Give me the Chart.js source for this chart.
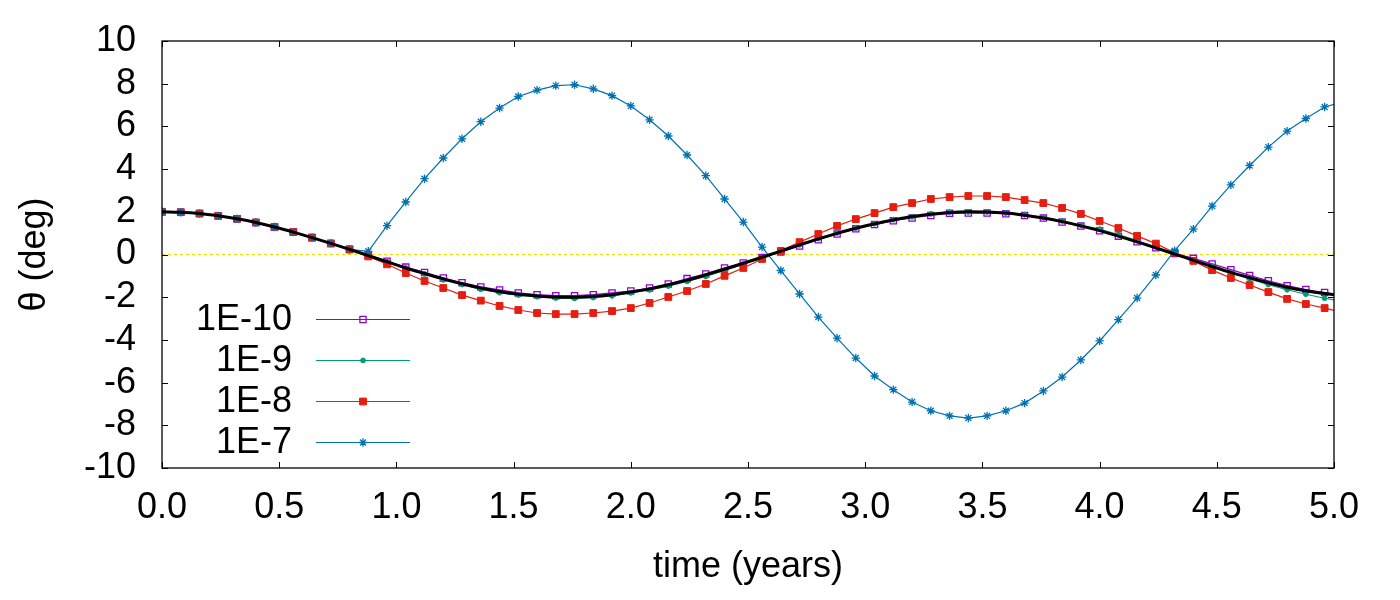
<!DOCTYPE html>
<html>
<head>
<meta charset="utf-8">
<script src="https://cdn.jsdelivr.net/npm/chart.js@4.4.1/dist/chart.umd.min.js"></script>
<style>
  html, body { margin: 0; padding: 0; background: #fff; }
</style>
</head>
<body>
<canvas id="chart" width="1400" height="600"></canvas>
<script>
'use strict';

// sample times (years)
const times = [
  0.00, 0.08, 0.16, 0.24, 0.32, 0.40, 0.48, 0.56, 0.64, 0.72,
  0.80, 0.88, 0.96, 1.04, 1.12, 1.20, 1.28, 1.36, 1.44, 1.52,
  1.60, 1.68, 1.76, 1.84, 1.92, 2.00, 2.08, 2.16, 2.24, 2.32,
  2.40, 2.48, 2.56, 2.64, 2.72, 2.80, 2.88, 2.96, 3.04, 3.12,
  3.20, 3.28, 3.36, 3.44, 3.52, 3.60, 3.68, 3.76, 3.84, 3.92,
  4.00, 4.08, 4.16, 4.24, 4.32, 4.40, 4.48, 4.56, 4.64, 4.72,
  4.80, 4.88, 4.96, 5.04
];

// thick black reference curve
const exact = [
  2.00, 1.98, 1.92, 1.81, 1.67, 1.50, 1.29, 1.05, 0.79, 0.52,
  0.24, -0.05, -0.34, -0.63, -0.89, -1.14, -1.37, -1.57, -1.73, -1.86,
  -1.94, -1.99, -2.00, -1.96, -1.88, -1.76, -1.61, -1.42, -1.20, -0.95,
  -0.69, -0.41, -0.13, 0.16, 0.45, 0.73, 0.99, 1.23, 1.44, 1.62,
  1.78, 1.89, 1.97, 2.00, 1.99, 1.94, 1.84, 1.71, 1.54, 1.34,
  1.12, 0.86, 0.59, 0.31, 0.02, -0.27, -0.56, -0.84, -1.09, -1.32,
  -1.53, -1.70, -1.83, -1.93
];

// 1E-10
const tol10 = [
  2.00, 1.98, 1.92, 1.81, 1.67, 1.50, 1.29, 1.05, 0.79, 0.52,
  0.24, -0.02, -0.32, -0.59, -0.84, -1.10, -1.32, -1.52, -1.66, -1.80,
  -1.88, -1.93, -1.93, -1.88, -1.80, -1.71, -1.57, -1.38, -1.13, -0.91,
  -0.63, -0.40, -0.14, 0.12, 0.40, 0.69, 0.96, 1.21, 1.40, 1.58,
  1.71, 1.83, 1.93, 1.94, 1.94, 1.91, 1.83, 1.71, 1.52, 1.33,
  1.11, 0.86, 0.60, 0.32, 0.05, -0.18, -0.44, -0.71, -0.98, -1.23,
  -1.46, -1.64, -1.78, -1.90
];

// 1E-9
const tol9 = [
  2.00, 1.98, 1.92, 1.81, 1.67, 1.50, 1.29, 1.05, 0.79, 0.52,
  0.24, -0.03, -0.34, -0.63, -0.91, -1.19, -1.41, -1.63, -1.79, -1.90,
  -1.98, -2.04, -2.06, -2.02, -1.94, -1.80, -1.66, -1.48, -1.26, -1.03,
  -0.75, -0.45, -0.16, 0.15, 0.45, 0.74, 1.01, 1.24, 1.44, 1.63,
  1.76, 1.90, 1.97, 1.99, 1.99, 1.94, 1.86, 1.74, 1.57, 1.38,
  1.19, 0.93, 0.65, 0.35, 0.06, -0.25, -0.55, -0.85, -1.14, -1.41,
  -1.65, -1.86, -2.05, -2.20
];

// 1E-8
const tol8 = [
  2.00, 1.98, 1.92, 1.81, 1.67, 1.50, 1.29, 1.05, 0.79, 0.52,
  0.24, -0.09, -0.46, -0.87, -1.24, -1.57, -1.90, -2.16, -2.41, -2.60,
  -2.74, -2.79, -2.79, -2.74, -2.65, -2.51, -2.27, -1.99, -1.71, -1.38,
  -1.00, -0.63, -0.21, 0.17, 0.58, 0.96, 1.34, 1.66, 1.94, 2.22,
  2.41, 2.60, 2.69, 2.74, 2.74, 2.69, 2.55, 2.41, 2.18, 1.90,
  1.57, 1.24, 0.87, 0.51, 0.08, -0.30, -0.73, -1.10, -1.43, -1.76,
  -2.08, -2.32, -2.51, -2.73
];

// 1E-7
const tol7 = [
  2.00, 1.98, 1.92, 1.81, 1.67, 1.50, 1.29, 1.05, 0.79, 0.52,
  0.24, 0.15, 1.35, 2.46, 3.55, 4.52, 5.42, 6.22, 6.86, 7.40,
  7.70, 7.91, 7.95, 7.76, 7.44, 6.96, 6.31, 5.55, 4.66, 3.69,
  2.60, 1.52, 0.35, -0.75, -1.85, -2.93, -3.92, -4.85, -5.69, -6.33,
  -6.91, -7.32, -7.56, -7.66, -7.56, -7.32, -6.96, -6.39, -5.74, -4.94,
  -4.05, -3.05, -2.04, -0.96, 0.18, 1.19, 2.27, 3.26, 4.17, 5.03,
  5.78, 6.37, 6.91, 7.15
];

// dotted zero line
const zeroX = [0, 5];
const zeroY = [0, 0];

const seriesLabels = ['1E-10', '1E-9', '1E-8', '1E-7'];
const xTickValues = [0, 0.5, 1, 1.5, 2, 2.5, 3, 3.5, 4, 4.5, 5];
const yTickValues = [-10, -8, -6, -4, -2, 0, 2, 4, 6, 8, 10];

const FONT = "'Liberation Sans', Arial, sans-serif";
const FSIZE = 36;

function pts(xs, ys) {
  return xs.map((x, i) => ({ x: x, y: ys[i] }));
}

// marker drawing shared by legend
function drawMarker(ctx, ds, x, y) {
  const r = ds.pointRadius;
  ctx.save();
  ctx.lineWidth = ds.pointBorderWidth;
  ctx.strokeStyle = ds.pointBorderColor;
  ctx.fillStyle = ds.pointBackgroundColor;
  ctx.beginPath();
  if (ds.pointStyle === 'rect') {
    const s = r * Math.SQRT1_2;
    ctx.rect(x - s, y - s, 2 * s, 2 * s);
    ctx.fill();
    ctx.stroke();
  } else if (ds.pointStyle === 'circle') {
    ctx.arc(x, y, r, 0, Math.PI * 2);
    ctx.fill();
    ctx.stroke();
  } else if (ds.pointStyle === 'star') {
    const d = r * Math.SQRT1_2;
    ctx.moveTo(x - r, y); ctx.lineTo(x + r, y);
    ctx.moveTo(x, y - r); ctx.lineTo(x, y + r);
    ctx.moveTo(x - d, y - d); ctx.lineTo(x + d, y + d);
    ctx.moveTo(x - d, y + d); ctx.lineTo(x + d, y - d);
    ctx.stroke();
  }
  ctx.restore();
}

const colors = ['#9400d3', '#009e73', '#e51e10', '#0072b2'];

const datasets = [
  {
    label: seriesLabels[0], data: pts(times, tol10),
    borderColor: colors[0], borderWidth: 1.2,
    pointStyle: 'rect', pointRadius: 4.4, pointBorderWidth: 1.3,
    pointBorderColor: colors[0], pointBackgroundColor: 'rgba(0,0,0,0)',
    order: 4
  },
  {
    label: seriesLabels[1], data: pts(times, tol9),
    borderColor: colors[1], borderWidth: 1.2,
    pointStyle: 'circle', pointRadius: 2.4, pointBorderWidth: 1,
    pointBorderColor: colors[1], pointBackgroundColor: colors[1],
    order: 3
  },
  {
    label: seriesLabels[2], data: pts(times, tol8),
    borderColor: colors[2], borderWidth: 1.2,
    pointStyle: 'rect', pointRadius: 4.8, pointBorderWidth: 1,
    pointBorderColor: colors[2], pointBackgroundColor: colors[2],
    order: 2
  },
  {
    label: seriesLabels[3], data: pts(times, tol7),
    borderColor: colors[3], borderWidth: 1.2,
    pointStyle: 'star', pointRadius: 4.2, pointBorderWidth: 1.3,
    pointBorderColor: colors[3], pointBackgroundColor: colors[3],
    order: 1
  },
  {
    label: 'exact', data: pts(times, exact),
    borderColor: '#000', borderWidth: 3, pointRadius: 0,
    cubicInterpolationMode: 'monotone', order: 0
  },
  {
    label: 'zero', data: pts(zeroX, zeroY),
    borderColor: '#f0dc00', borderWidth: 1.2, borderDash: [3, 3],
    pointRadius: 0, order: 5
  }
];

// frame + inward tick marks on all four sides
const framePlugin = {
  id: 'frame',
  afterDatasetsDraw(chart) {
    const ctx = chart.ctx;
    const a = chart.chartArea;
    const sx = chart.scales.x, sy = chart.scales.y;
    const tl = 6;
    ctx.save();
    ctx.strokeStyle = '#000';
    ctx.lineWidth = 1;
    ctx.beginPath();
    sx.ticks.forEach(t => {
      const px = Math.round(sx.getPixelForValue(t.value)) + 0.5;
      ctx.moveTo(px, a.bottom); ctx.lineTo(px, a.bottom - tl);
      ctx.moveTo(px, a.top); ctx.lineTo(px, a.top + tl);
    });
    sy.ticks.forEach(t => {
      const py = Math.round(sy.getPixelForValue(t.value)) + 0.5;
      ctx.moveTo(a.left, py); ctx.lineTo(a.left + tl, py);
      ctx.moveTo(a.right, py); ctx.lineTo(a.right - tl, py);
    });
    ctx.stroke();
    ctx.lineWidth = 1.3;
    ctx.strokeRect(a.left, a.top, a.right - a.left, a.bottom - a.top);
    ctx.restore();
  }
};

// key drawn inside the plot, text right-aligned before the sample
const keyPlugin = {
  id: 'key',
  afterDraw(chart) {
    const ctx = chart.ctx;
    const a = chart.chartArea;
    const textRight = a.left + 130;
    const lineL = a.left + 154, lineR = a.left + 248;
    const rowBase = a.bottom - 149, rowGap = 41;
    ctx.save();
    ctx.font = FSIZE + 'px ' + FONT;
    ctx.textAlign = 'right';
    ctx.textBaseline = 'middle';
    for (let i = 0; i < seriesLabels.length; i++) {
      const ds = chart.data.datasets[i];
      const y = rowBase + i * rowGap;
      ctx.fillStyle = '#000';
      ctx.fillText(seriesLabels[i], textRight, y + 1);
      ctx.strokeStyle = ds.borderColor;
      ctx.lineWidth = ds.borderWidth;
      ctx.beginPath();
      ctx.moveTo(lineL, y + 0.5); ctx.lineTo(lineR, y + 0.5);
      ctx.stroke();
      drawMarker(ctx, ds, (lineL + lineR) / 2, y + 0.5);
    }
    ctx.restore();
  }
};

new Chart(document.getElementById('chart'), {
  type: 'line',
  data: { datasets: datasets },
  options: {
    responsive: false,
    animation: false,
    devicePixelRatio: 1,
    layout: { autoPadding: false, padding: { top: 41, right: 66, bottom: 0, left: 0 } },
    plugins: { legend: { display: false }, tooltip: { enabled: false } },
    scales: {
      x: {
        type: 'linear', min: 0, max: 5,
        afterBuildTicks: s => { s.ticks = xTickValues.map(v => ({ value: v })); },
        afterFit: s => { s.height = 132; },
        ticks: {
          callback: v => Number(v).toFixed(1), padding: 18, maxRotation: 0,
          autoSkip: false, color: '#000', font: { family: FONT, size: FSIZE }
        },
        grid: { display: false, drawTicks: false },
        border: { display: false },
        title: {
          display: true, text: 'time (years)', color: '#000',
          font: { family: FONT, size: FSIZE }, padding: { top: 0, bottom: 11 }
        }
      },
      y: {
        type: 'linear', min: -10, max: 10,
        afterBuildTicks: s => { s.ticks = yTickValues.map(v => ({ value: v })); },
        afterFit: s => { s.width = 162; },
        ticks: {
          callback: v => String(v), padding: 26, autoSkip: false,
          color: '#000', font: { family: FONT, size: FSIZE, lineHeight: 0.8 }
        },
        grid: { display: false, drawTicks: false },
        border: { display: false },
        title: {
          display: true, text: 'θ (deg)', color: '#000',
          font: { family: FONT, size: FSIZE }, padding: { top: 13, bottom: 0 }
        }
      }
    }
  },
  plugins: [framePlugin, keyPlugin]
});
</script>
</body>
</html>
